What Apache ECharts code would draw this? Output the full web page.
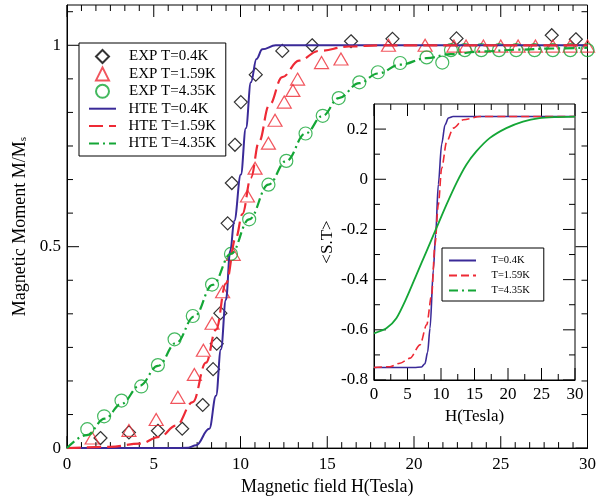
<!DOCTYPE html>
<html>
<head>
<meta charset="utf-8">
<script src="https://cdn.jsdelivr.net/npm/echarts@6/dist/echarts.min.js"></script>
<style>html,body{margin:0;padding:0;background:#fff}#c{width:599px;height:501px;background:#fff}</style>
</head>
<body>
<div id="c"></div>
<script>
// ---- main panel: experimental data ----
const exp04H = [1.93, 3.57, 5.24, 6.64, 7.82, 8.42, 8.63, 8.84, 9.26, 9.5, 9.68, 10.02, 10.88, 12.41, 14.13, 16.37, 18.76, 22.45, 27.94, 29.33];
const exp04M = [0.025, 0.039, 0.043, 0.048, 0.107, 0.196, 0.259, 0.335, 0.558, 0.658, 0.753, 0.859, 0.927, 0.986, 1.0, 1.01, 1.016, 1.017, 1.025, 1.015];

const exp159H = [1.45, 3.57, 5.14, 6.39, 7.34, 7.86, 8.36, 8.97, 9.58, 10.4, 10.84, 11.61, 11.99, 12.52, 13.02, 13.29, 14.67, 15.79, 18.53, 20.64, 22.3, 23.0, 24.0, 25.0, 26.0, 27.0, 28.0, 29.0, 30.0];
const exp159M = [0.025, 0.044, 0.071, 0.126, 0.183, 0.243, 0.31, 0.388, 0.481, 0.626, 0.695, 0.757, 0.814, 0.859, 0.888, 0.916, 0.957, 0.966, 1.0, 1.0, 0.998, 0.998, 0.998, 0.998, 0.998, 0.998, 0.998, 0.998, 0.998];

const exp435H = [1.17, 2.14, 3.14, 4.28, 5.24, 6.2, 7.25, 8.36, 9.45, 10.5, 11.61, 12.64, 13.75, 14.74, 15.66, 16.85, 17.92, 19.2, 20.73, 21.63, 22.13, 22.93, 23.88, 24.9, 25.89, 26.95, 28.0, 29.01, 30.0];
const exp435M = [0.047, 0.079, 0.118, 0.153, 0.206, 0.27, 0.328, 0.406, 0.482, 0.568, 0.654, 0.713, 0.781, 0.825, 0.869, 0.908, 0.933, 0.956, 0.97, 0.957, 0.988, 0.988, 0.988, 0.988, 0.988, 0.988, 0.988, 0.988, 0.988];

// ---- main panel: HTE curves ----
const hte04H = [0, 2, 4, 6, 7, 7.44, 8.2, 8.59, 8.87, 9.16, 9.41, 9.64, 10.02, 10.31, 10.6, 10.92, 11.26, 12.03, 15, 20, 25, 30];
const hte04M = [0, 0, 0, 0, 0.001, 0.007, 0.048, 0.13, 0.245, 0.368, 0.49, 0.564, 0.679, 0.794, 0.908, 0.966, 0.99, 1.0, 1.0, 1.0, 1.0, 1.0];

const hte159H = [0, 2.47, 4.19, 5.34, 6.29, 7.25, 8.01, 8.59, 9.16, 9.74, 10.11, 10.6, 11.07, 11.65, 12.41, 13.37, 14.52, 16.24, 18.15, 22, 26, 30];
const hte159M = [0, 0.003, 0.011, 0.028, 0.056, 0.114, 0.212, 0.294, 0.409, 0.523, 0.581, 0.671, 0.761, 0.851, 0.921, 0.962, 0.986, 0.997, 1.0, 1.0, 1.0, 1.0];

const hte435H = [0, 1.13, 2.18, 3.14, 4.19, 5.24, 6.29, 7.34, 8.39, 9.45, 10.5, 11.61, 12.64, 13.75, 14.74, 15.66, 16.85, 17.92, 19.2, 20.73, 22.1, 24, 26, 28, 30];
const hte435M = [0, 0.032, 0.073, 0.11, 0.155, 0.204, 0.261, 0.327, 0.405, 0.482, 0.568, 0.654, 0.713, 0.781, 0.825, 0.869, 0.906, 0.93, 0.952, 0.968, 0.978, 0.985, 0.989, 0.992, 0.994];

// ---- inset: <S.T> curves ----
const in04H = [0, 3, 6, 7.1, 7.6, 8.0, 8.36, 8.86, 9.2, 9.6, 10.1, 10.6, 11.1, 11.8, 15, 20, 25, 30];
const in04S = [-0.75, -0.75, -0.75, -0.748, -0.735, -0.69, -0.594, -0.36, -0.22, -0.02, 0.14, 0.217, 0.244, 0.25, 0.25, 0.25, 0.25, 0.25];

const in159H = [0, 2.39, 3.88, 5.37, 6.87, 7.86, 8.6, 9.1, 9.6, 10.1, 10.85, 11.84, 13.33, 15.82, 20, 25, 30];
const in159S = [-0.75, -0.747, -0.733, -0.713, -0.66, -0.58, -0.461, -0.261, -0.102, 0.044, 0.15, 0.204, 0.237, 0.25, 0.25, 0.25, 0.25];

const in435H = [0, 1.85, 3.34, 4.84, 6.33, 7.82, 9.31, 10.8, 12.3, 13.78, 15.27, 17.26, 19.75, 22.24, 24.7, 27, 30];
const in435S = [-0.614, -0.594, -0.554, -0.474, -0.381, -0.288, -0.195, -0.102, -0.015, 0.058, 0.111, 0.164, 0.204, 0.23, 0.244, 0.248, 0.25];

// ---- axes / tick labels ----
const mainX = { min: 0, max: 30, interval: 5 };
const mainY = { min: 0, max: 1.1, interval: 0.5 };
const insetX = { min: 0, max: 30, interval: 5 };
const insetY = { min: -0.8, max: 0.3, interval: 0.2 };

const mainXMajor = [0, 5, 10, 15, 20, 25, 30];
const mainYMajor = [0, 0.5, 1];
const insetXMajor = [0, 5, 10, 15, 20, 25, 30];
const insetYMajor = [-0.8, -0.6, -0.4, -0.2, 0, 0.2];
// minor subdivisions per major interval
const mainXMinorPer = 6, mainYMinorPer = 6, insetXMinorPer = 2, insetYMinorPer = 2;

const names = {
  e04: 'EXP T=0.4K', e159: 'EXP T=1.59K', e435: 'EXP T=4.35K',
  h04: 'HTE T=0.4K', h159: 'HTE T=1.59K', h435: 'HTE T=4.35K',
  i04: 'T=0.4K', i159: 'T=1.59K', i435: 'T=4.35K'
};

const BLUE = '#3a2a98', RED = '#ee2a35', GREEN = '#14a636';
const FONT = 'Liberation Serif';
const MAJOR = 12, MINOR = 6;
const zip = (a, b) => a.map((v, i) => [v, b[i]]);

// tick rows: [side (0 bottom, 1 top, 2 left, 3 right), value, length]
function tickRows(xMajor, yMajor, xPer, yPer, xExt, yExt) {
  const rows = [];
  const addMinor = (major, per, ext, sides) => {
    const step = major[1] - major[0];
    for (let v = major[0] - step; v <= ext.max + 1e-9; v += step) {
      for (let k = 1; k < per; k++) {
        const m = +(v + k * step / per).toFixed(6);
        if (m > ext.min + 1e-9 && m < ext.max - 1e-9) sides.forEach(s => rows.push([s, m, MINOR]));
      }
    }
  };
  xMajor.forEach(v => { rows.push([0, v, MAJOR]); rows.push([1, v, MAJOR]); });
  yMajor.forEach(v => { rows.push([2, v, MAJOR]); rows.push([3, v, MAJOR]); });
  addMinor(xMajor, xPer, xExt, [0, 1]);
  addMinor(yMajor, yPer, yExt, [2, 3]);
  return rows;
}
function tickRenderer(xExt, yExt) {
  return function (params, api) {
    const side = api.value(0), v = api.value(1), len = api.value(2);
    let p, x2, y2;
    if (side === 0) { p = api.coord([v, yExt.min]); x2 = p[0]; y2 = p[1] - len; }
    else if (side === 1) { p = api.coord([v, yExt.max]); x2 = p[0]; y2 = p[1] + len; }
    else if (side === 2) { p = api.coord([xExt.min, v]); x2 = p[0] + len; y2 = p[1]; }
    else { p = api.coord([xExt.max, v]); x2 = p[0] - len; y2 = p[1]; }
    return { type: 'line', shape: { x1: p[0], y1: p[1], x2: x2, y2: y2 }, style: { stroke: '#000', lineWidth: 1 } };
  };
}

function xAx(grid, t, extra) {
  return Object.assign({
    type: 'value', gridIndex: grid, position: 'bottom', min: t.min, max: t.max, interval: t.interval,
    axisLine: { show: true, onZero: false, lineStyle: { color: '#000', width: 1 } },
    axisTick: { show: false }, minorTick: { show: false },
    splitLine: { show: false },
    axisLabel: { show: true, color: '#000', fontFamily: FONT, fontSize: 17, margin: 8 }
  }, extra || {});
}
function yAx(grid, t, extra) {
  return Object.assign({
    type: 'value', gridIndex: grid, position: 'left', min: t.min, max: t.max, interval: t.interval,
    axisLine: { show: true, onZero: false, lineStyle: { color: '#000', width: 1 } },
    axisTick: { show: false }, minorTick: { show: false },
    splitLine: { show: false },
    axisLabel: { show: true, color: '#000', fontFamily: FONT, fontSize: 17, margin: 6, showMaxLabel: false }
  }, extra || {});
}

const option = {
  animation: false,
  grid: [
    { left: 67, right: 10, top: 5, bottom: 48, show: true, borderColor: '#000', borderWidth: 1 },
    { left: 374, top: 104, width: 201, height: 276, show: true, borderColor: '#000', borderWidth: 1, backgroundColor: '#fff', z: 10 }
  ],
  xAxis: [
    xAx(0, mainX, {
      name: 'Magnetic field H(Tesla)', nameLocation: 'middle', nameGap: 28,
      nameTextStyle: { color: '#000', fontFamily: FONT, fontSize: 18 }
    }),
    xAx(1, insetX, {
      z: 11, axisLabel: { show: true, color: '#000', fontFamily: FONT, fontSize: 17, margin: 6 },
      name: 'H(Tesla)', nameLocation: 'middle', nameGap: 22,
      nameTextStyle: { color: '#000', fontFamily: FONT, fontSize: 17 }
    })
  ],
  yAxis: [
    yAx(0, mainY, {
      name: '{a|Magnetic Moment M/M}{s|s}', nameLocation: 'middle', nameGap: 36, nameRotate: 90,
      nameTextStyle: {
        color: '#000', fontFamily: FONT,
        rich: {
          a: { fontFamily: FONT, fontSize: 18, color: '#000', verticalAlign: 'bottom', lineHeight: 24 },
          s: { fontFamily: FONT, fontSize: 11, color: '#000', verticalAlign: 'bottom', lineHeight: 8 }
        }
      }
    }),
    yAx(1, insetY, {
      z: 11,
      name: '<S.T>', nameLocation: 'middle', nameGap: 38, nameRotate: 90,
      nameTextStyle: { color: '#000', fontFamily: FONT, fontSize: 17 }
    })
  ],
  legend: [
    {
      left: 79, top: 43, orient: 'vertical', padding: [6, 10, 57.2, 16], itemGap: 2.4,
      itemWidth: 13, itemHeight: 13, borderColor: '#000', borderWidth: 1, borderRadius: 0,
      backgroundColor: '#fff',
      formatter: '    {name}',
      textStyle: { color: '#000', fontFamily: FONT, fontSize: 15 },
      data: [names.e04, names.e159, names.e435]
    },
    {
      left: 79, top: 95.2, orient: 'vertical', padding: [6, 0, 0, 9], itemGap: 2.4,
      itemWidth: 27, itemHeight: 13, z: 5,
      formatter: '  {name}',
      textStyle: { color: '#000', fontFamily: FONT, fontSize: 15 },
      data: [
        { name: names.h04, itemStyle: { opacity: 0 } },
        { name: names.h159, itemStyle: { opacity: 0 } },
        { name: names.h435, itemStyle: { opacity: 0 } }
      ]
    },
    {
      left: 442, top: 248, orient: 'vertical', padding: [7, 14, 5, 6], itemGap: 4,
      itemWidth: 27, itemHeight: 10, borderColor: '#000', borderWidth: 1, borderRadius: 0,
      backgroundColor: '#fff', z: 13,
      formatter: '    {name}',
      textStyle: { color: '#000', fontFamily: FONT, fontSize: 10.5 },
      data: [
        { name: names.i04, itemStyle: { opacity: 0 } },
        { name: names.i159, itemStyle: { opacity: 0 } },
        { name: names.i435, itemStyle: { opacity: 0 }, lineStyle: { type: [9, 4, 2, 4] } }
      ]
    }
  ],
  series: [
    { name: names.h04, type: 'line', xAxisIndex: 0, yAxisIndex: 0, data: zip(hte04H, hte04M), symbol: 'none', smooth: 0.4, smoothMonotone: 'x',
      lineStyle: { color: BLUE, width: 2 }, itemStyle: { color: BLUE } },
    { name: names.h159, type: 'line', xAxisIndex: 0, yAxisIndex: 0, data: zip(hte159H, hte159M), symbol: 'none', smooth: 0.4, smoothMonotone: 'x',
      lineStyle: { color: RED, width: 2.2, type: [14, 6] }, itemStyle: { color: RED } },
    { name: names.h435, type: 'line', xAxisIndex: 0, yAxisIndex: 0, data: zip(hte435H, hte435M), symbol: 'none', smooth: 0.4, smoothMonotone: 'x',
      lineStyle: { color: GREEN, width: 2.2, type: [10, 4, 2, 4] }, itemStyle: { color: GREEN } },
    { name: names.e04, type: 'scatter', xAxisIndex: 0, yAxisIndex: 0, data: zip(exp04H, exp04M), symbol: 'diamond', symbolSize: 13,
      itemStyle: { color: 'rgba(0,0,0,0)', borderColor: '#000', borderWidth: 1.2 } },
    { name: names.e159, type: 'scatter', xAxisIndex: 0, yAxisIndex: 0, data: zip(exp159H, exp159M), symbol: 'triangle', symbolSize: [14, 12],
      itemStyle: { color: 'rgba(0,0,0,0)', borderColor: RED, borderWidth: 1.2 } },
    { name: names.e435, type: 'scatter', xAxisIndex: 0, yAxisIndex: 0, data: zip(exp435H, exp435M), symbol: 'circle', symbolSize: 13,
      itemStyle: { color: 'rgba(0,0,0,0)', borderColor: GREEN, borderWidth: 1.2 } },
    { type: 'custom', xAxisIndex: 0, yAxisIndex: 0, z: 3, silent: true, clip: false,
      data: tickRows(mainXMajor, mainYMajor, mainXMinorPer, mainYMinorPer, mainX, mainY),
      renderItem: tickRenderer(mainX, mainY) },

    { name: names.i04, type: 'line', xAxisIndex: 1, yAxisIndex: 1, z: 12, data: zip(in04H, in04S), symbol: 'none', smooth: 0.3, smoothMonotone: 'x',
      lineStyle: { color: BLUE, width: 1.6 }, itemStyle: { color: BLUE } },
    { name: names.i159, type: 'line', xAxisIndex: 1, yAxisIndex: 1, z: 12, data: zip(in159H, in159S), symbol: 'none', smooth: 0.3, smoothMonotone: 'x',
      lineStyle: { color: RED, width: 1.6, type: [8, 4] }, itemStyle: { color: RED } },
    { name: names.i435, type: 'line', xAxisIndex: 1, yAxisIndex: 1, z: 12, data: zip(in435H, in435S), symbol: 'none', smooth: 0.25,
      lineStyle: { color: GREEN, width: 1.8 }, itemStyle: { color: GREEN } },
    { type: 'custom', xAxisIndex: 1, yAxisIndex: 1, z: 12, silent: true, clip: false,
      data: tickRows(insetXMajor, insetYMajor, insetXMinorPer, insetYMinorPer, insetX, insetY),
      renderItem: tickRenderer(insetX, insetY) }
  ]
};

const chart = echarts.init(document.getElementById('c'));
chart.setOption(option);
</script>
</body>
</html>
